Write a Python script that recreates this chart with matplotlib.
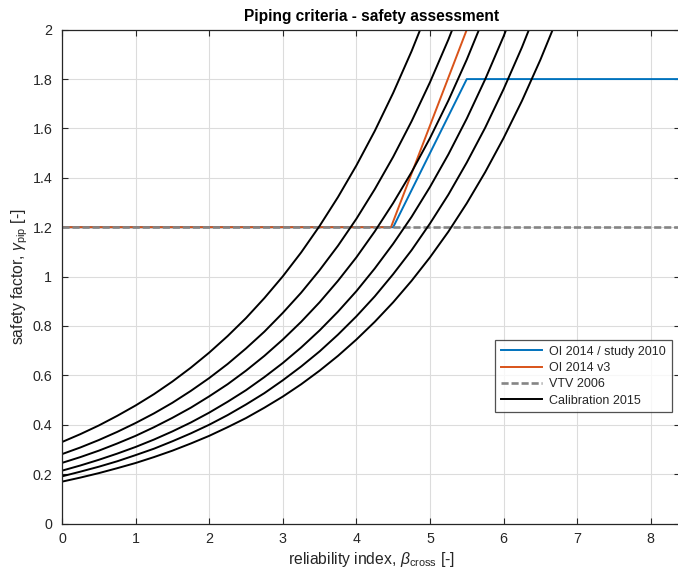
import matplotlib
matplotlib.use("Agg")
import matplotlib.pyplot as plt

plt.rcParams['font.family'] = ['Liberation Sans', 'DejaVu Sans']
plt.rcParams['mathtext.fontset'] = 'custom'
plt.rcParams['mathtext.rm'] = 'Liberation Sans'
plt.rcParams['mathtext.it'] = 'Liberation Sans:italic'
plt.rcParams['mathtext.bf'] = 'Liberation Sans:bold'

# ---- data ----
# OI 2014 / study 2010
beta_oi2014 = [0.0, 4.5, 5.5, 9.0]
gamma_oi2014 = [1.2, 1.2, 1.8, 1.8]
# OI 2014 v3
beta_oi2014v3 = [0.0, 4.47, 5.5]
gamma_oi2014v3 = [1.2, 1.2, 2.0]
# VTV 2006
beta_vtv = [0.0, 9.0]
gamma_vtv = [1.2, 1.2]

# Calibration 2015 (six curves, sampled every 0.25 in beta)
beta_cal = [0.0, 0.25, 0.5, 0.75, 1.0, 1.25, 1.5, 1.75, 2.0, 2.25, 2.5, 2.75,
            3.0, 3.25, 3.5, 3.75, 4.0, 4.25, 4.5, 4.75, 5.0, 5.25, 5.5, 5.75,
            6.0, 6.25, 6.5, 6.75]
gamma_cal_1 = [0.330, 0.362, 0.397, 0.436, 0.478, 0.524, 0.575, 0.631, 0.692,
               0.759, 0.832, 0.913, 1.001, 1.098, 1.205, 1.322, 1.450, 1.590,
               1.744, 1.913, 2.099]
gamma_cal_2 = [0.281, 0.308, 0.338, 0.371, 0.407, 0.446, 0.489, 0.537, 0.589,
               0.646, 0.709, 0.777, 0.853, 0.935, 1.026, 1.125, 1.234, 1.354,
               1.485, 1.629, 1.787, 1.960, 2.150]
gamma_cal_3 = [0.2455, 0.269, 0.295, 0.324, 0.355, 0.390, 0.428, 0.469, 0.515,
               0.564, 0.619, 0.679, 0.745, 0.817, 0.896, 0.983, 1.078, 1.183,
               1.298, 1.423, 1.561, 1.713, 1.879, 2.061]
gamma_cal_4 = [0.214, 0.235, 0.258, 0.283, 0.310, 0.340, 0.373, 0.409, 0.449,
               0.493, 0.540, 0.593, 0.650, 0.713, 0.782, 0.858, 0.941, 1.033,
               1.133, 1.242, 1.363, 1.495, 1.640, 1.799, 1.973, 2.164]
gamma_cal_5 = [0.191, 0.210, 0.230, 0.252, 0.277, 0.303, 0.333, 0.365, 0.400,
               0.439, 0.482, 0.528, 0.580, 0.636, 0.697, 0.765, 0.839, 0.920,
               1.010, 1.107, 1.215, 1.332, 1.462, 1.603, 1.759, 1.929, 2.116]
gamma_cal_6 = [0.1695, 0.186, 0.204, 0.224, 0.245, 0.269, 0.295, 0.324, 0.355,
               0.390, 0.427, 0.469, 0.514, 0.564, 0.619, 0.679, 0.745, 0.817,
               0.896, 0.983, 1.078, 1.182, 1.297, 1.423, 1.561, 1.712, 1.878,
               2.060]
gamma_cal = [gamma_cal_1, gamma_cal_2, gamma_cal_3, gamma_cal_4, gamma_cal_5, gamma_cal_6]

xticks = [0, 1, 2, 3, 4, 5, 6, 7, 8]
yticks = [0, 0.2, 0.4, 0.6, 0.8, 1.0, 1.2, 1.4, 1.6, 1.8, 2.0]
ytick_labels = ['0', '0.2', '0.4', '0.6', '0.8', '1', '1.2', '1.4', '1.6', '1.8', '2']

# ---- figure ----
W, H = 678, 572
fig = plt.figure(figsize=(W / 100, H / 100), dpi=100, facecolor='white')
left, bottom, top = 62 / W, 1 - 523.5 / H, 1 - 29.7 / H
width = 618.2 / W
ax = fig.add_axes([left, bottom, width, top - bottom])

axcol = '#262626'
ax.plot(beta_oi2014, gamma_oi2014, color='#0072BD', lw=1.4, label='OI 2014 / study 2010')
ax.plot(beta_oi2014v3, gamma_oi2014v3, color='#D95319', lw=1.4, label='OI 2014 v3')
ax.plot(beta_vtv, gamma_vtv, color='#858585', lw=1.9, dashes=(2.7, 1.1), label='VTV 2006')
for i, g in enumerate(gamma_cal):
    ax.plot(beta_cal[:len(g)], g, color='black', lw=1.4,
            label='Calibration 2015' if i == 0 else None)

ax.set_xlim(0, 8.4)
ax.set_ylim(0, 2)
ax.set_xticks(xticks)
ax.set_yticks(yticks)
ax.set_yticklabels(ytick_labels)
ax.grid(True, color='#dcdcdc', lw=0.8)
ax.set_axisbelow(True)
ax.tick_params(direction='in', length=4, width=0.8, colors=axcol, labelsize=10.3,
               top=True, right=True, pad=6)
ax.tick_params(axis='y', pad=7)
for s in ax.spines.values():
    s.set_color(axcol)
    s.set_linewidth(0.9)
ax.spines['right'].set_visible(False)

ax.set_title('Piping criteria - safety assessment', fontsize=11.2, fontweight='bold',
             color='black', pad=6)
ax.set_xlabel(r'reliability index, $\it{\beta}_{\rm cross}$ [-]', fontsize=11.3, color=axcol, labelpad=3)
ax.set_ylabel(r'safety factor, $\it{\gamma}_{\rm pip}$ [-]', fontsize=11.3, color=axcol, labelpad=1.5)

leg = ax.legend(loc='upper left', bbox_to_anchor=(495 / W, 1 - 340 / H),
                bbox_transform=fig.transFigure, fontsize=9, frameon=True,
                fancybox=False, borderaxespad=0, handlelength=3.3,
                handletextpad=0.6, labelspacing=0.35, borderpad=0.45)
leg.get_frame().set_edgecolor(axcol)
leg.get_frame().set_linewidth(0.9)
for t in leg.get_texts():
    t.set_color(axcol)

fig.savefig('out.png', dpi=100, facecolor='white')
